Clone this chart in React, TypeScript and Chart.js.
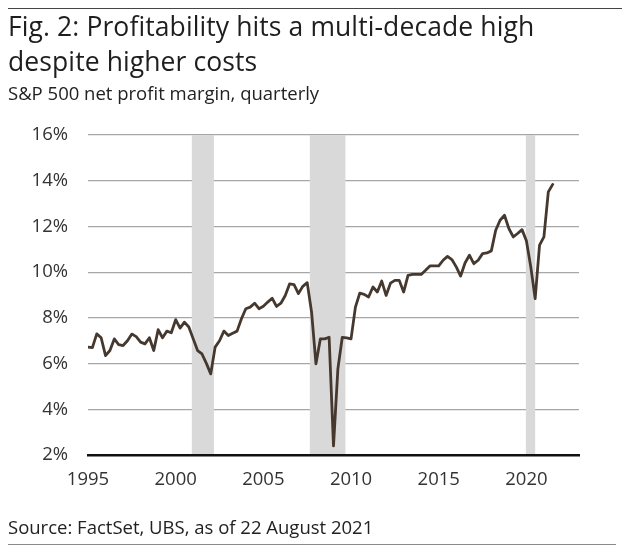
import { useEffect, useRef } from "react";
import { Chart, registerables } from "chart.js";

Chart.register(...registerables);

// ---- data ----
const startYear = 1995; // first quarter of the series
const margin = [
  6.72, 6.7, 7.3, 7.13, 6.35, 6.57, 7.08, 6.83, 6.79, 7.0,
  7.29, 7.18, 6.94, 6.86, 7.13, 6.57, 7.48, 7.13, 7.42, 7.35,
  7.92, 7.55, 7.81, 7.6, 7.08, 6.57, 6.42, 6.01, 5.55, 6.72,
  7.0, 7.42, 7.23, 7.33, 7.42, 7.96, 8.4, 8.47, 8.64, 8.4,
  8.51, 8.69, 8.86, 8.5, 8.64, 8.98, 9.49, 9.45, 9.06, 9.38,
  9.54, 8.25, 5.99, 7.08, 7.08, 7.15, 2.4, 5.77, 7.15, 7.12,
  7.08, 8.47, 9.08, 9.03, 8.91, 9.35, 9.13, 9.61, 8.98, 9.52,
  9.64, 9.64, 9.13, 9.86, 9.9, 9.9, 9.9, 10.08, 10.27, 10.27,
  10.27, 10.52, 10.69, 10.55, 10.23, 9.83, 10.4, 10.74, 10.37, 10.52,
  10.81, 10.84, 10.93, 11.83, 12.27, 12.49, 11.91, 11.54, 11.69, 11.86,
  11.37, 10.23, 8.84, 11.18, 11.54, 13.51, 13.84,
];
const recessionStart = [2000.92, 2007.65, 2019.97];
const recessionEnd = [2002.18, 2009.68, 2020.5];
const xTickYears = [1995, 2000, 2005, 2010, 2015, 2020];
const yTickValues = [2, 4, 6, 8, 10, 12, 14, 16];

const FONT = "'Open Sans', 'Noto Sans', sans-serif";

const bandsPlugin = {
  id: "recessionBands",
  beforeDatasetsDraw(chart: any) {
    const { ctx, chartArea, scales } = chart;
    ctx.save();
    ctx.fillStyle = "#d9d9d9";
    recessionStart.forEach((s, i) => {
      const x0 = scales.x.getPixelForValue(s);
      const x1 = scales.x.getPixelForValue(recessionEnd[i]);
      ctx.fillRect(x0, chartArea.top, x1 - x0, chartArea.bottom - chartArea.top);
    });
    ctx.restore();
  },
};

export default function App() {
  const ref = useRef<HTMLCanvasElement | null>(null);

  useEffect(() => {
    if (!ref.current) return;
    const points = margin.map((v, i) => ({ x: startYear + i / 4, y: v }));
    const chart = new Chart(ref.current, {
      type: "line",
      data: {
        datasets: [
          {
            data: points,
            borderColor: "#45382f",
            borderWidth: 2.8,
            pointRadius: 0,
            tension: 0,
            borderJoinStyle: "round",
            borderCapStyle: "round",
          },
        ],
      },
      options: {
        animation: false,
        responsive: false,
        devicePixelRatio: 1,
        events: [],
        layout: { padding: { left: 0, right: 51, top: 135, bottom: 0 } },
        plugins: {
          legend: { display: false },
          tooltip: { enabled: false },
        },
        scales: {
          x: {
            type: "linear",
            min: 1995,
            max: 2023,
            afterBuildTicks: (axis: any) => {
              axis.ticks = xTickYears.map((v) => ({ value: v }));
            },
            afterFit: (axis: any) => {
              axis.height = 97;
            },
            grid: { display: false, drawTicks: false },
            border: { display: true, color: "#111111", width: 2.6, z: 1 },
            ticks: {
              padding: 14,
              color: "#333333",
              font: { family: FONT, size: 18.5 },
              maxRotation: 0,
              autoSkip: false,
              callback: (v: any) => String(v),
            },
          },
          y: {
            min: 2,
            max: 16,
            afterBuildTicks: (axis: any) => {
              axis.ticks = yTickValues.map((v) => ({ value: v }));
            },
            afterFit: (axis: any) => {
              axis.width = 88;
            },
            grid: { color: "#a6a6a6", lineWidth: 1.2, drawTicks: false },
            border: { display: false },
            ticks: {
              padding: 20,
              color: "#333333",
              font: { family: FONT, size: 18.5 },
              callback: (v: any) => v + "%",
            },
          },
        },
      },
      plugins: [bandsPlugin],
    });
    return () => chart.destroy();
  }, []);

  const textBase: React.CSSProperties = {
    position: "absolute",
    left: 8,
    fontFamily: FONT,
    whiteSpace: "nowrap",
    margin: 0,
  };

  return (
    <div style={{ position: "absolute", left: 0, top: 0, width: 630, height: 552, background: "#fff", overflow: "hidden" }}>
      <canvas ref={ref} width={630} height={552} style={{ position: "absolute", left: 0, top: 0, width: 630, height: 552 }} />
      <div style={{ position: "absolute", left: 8, top: 8, width: 614, height: 0, borderTop: "1.6px solid #444" }} />
      <div style={{ ...textBase, top: 12.5, fontSize: 26.5, lineHeight: "26.5px", letterSpacing: 0.1, color: "#1e1e1e" }}>
        Fig. 2: Profitability hits a multi-decade high
      </div>
      <div style={{ ...textBase, top: 48.2, fontSize: 26.5, lineHeight: "26.5px", letterSpacing: 0.1, color: "#1e1e1e" }}>
        despite higher costs
      </div>
      <div style={{ ...textBase, top: 84, fontSize: 18.5, lineHeight: "18.5px", color: "#222" }}>
        S&amp;P 500 net profit margin, quarterly
      </div>
      <div style={{ ...textBase, top: 518, fontSize: 18.5, lineHeight: "18.5px", color: "#222" }}>
        Source: FactSet, UBS, as of 22 August 2021
      </div>
      <div style={{ position: "absolute", left: 8, top: 544, width: 608, height: 0, borderTop: "1px solid #8a8a8a" }} />
    </div>
  );
}
